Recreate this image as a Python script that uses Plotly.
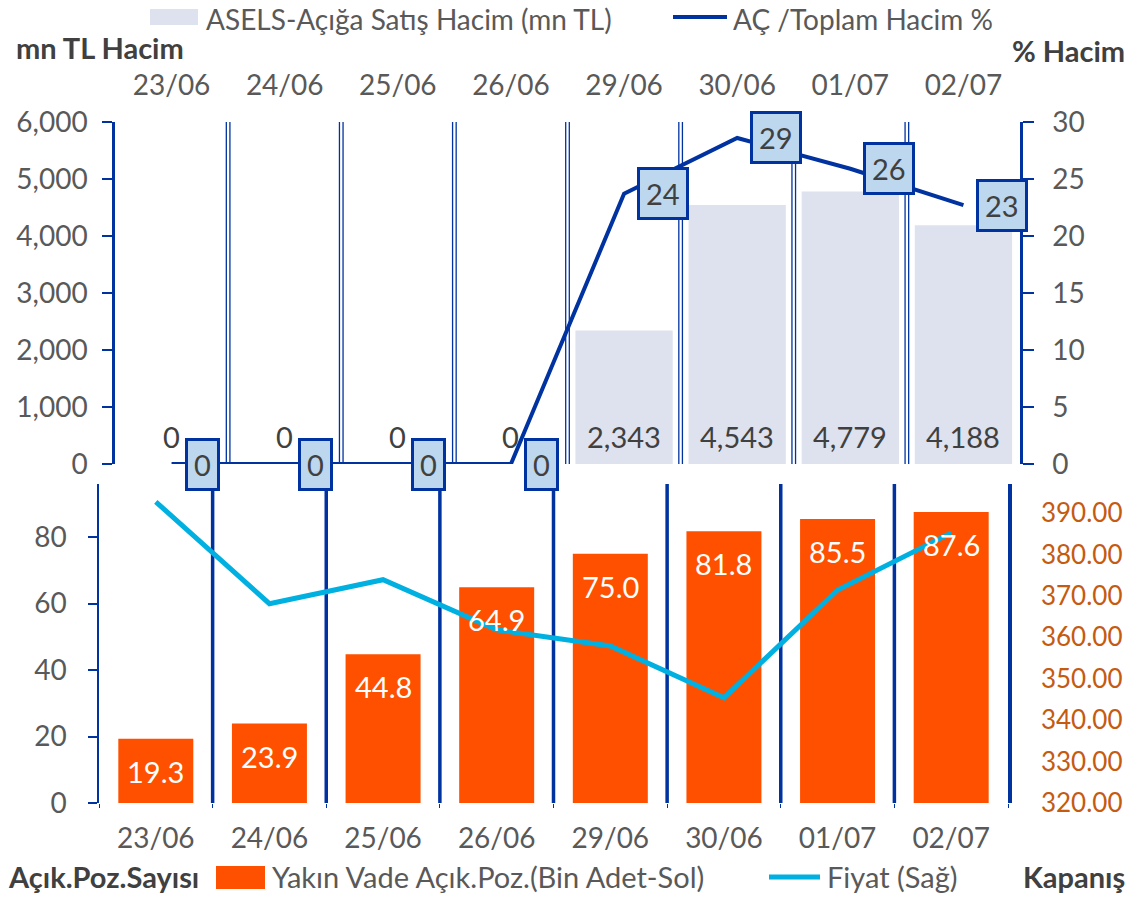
import plotly.graph_objects as go

# ---- data ----
dates = ["23/06", "24/06", "25/06", "26/06", "29/06", "30/06", "01/07", "02/07"]
short_volume = [0, 0, 0, 0, 2343, 4543, 4779, 4188]          # mn TL
short_ratio = [0, 0, 0, 0, 23.7, 28.6, 25.9, 22.7]            # %
open_positions = [19.3, 23.9, 44.8, 64.9, 75.0, 81.8, 85.5, 87.6]  # bin adet
close_price = [392.7, 368.1, 373.9, 361.8, 357.9, 345.4, 371.4, 385.2]

legend_top = ["ASELS-Açığa Satış Hacim (mn TL)", "AÇ /Toplam Hacim %"]
legend_bottom = ["Yakın Vade Açık.Poz.(Bin Adet-Sol)", "Fiyat (Sağ)"]

FW, FH = 1132, 897
FONT = "Lato"
GRAY = "#595959"
DARK = "#404040"
NAVY = "#0033A0"
BAR_LIGHT = "#DDE2EE"
BOX = "#BDD7EE"
ORANGE = "#FF5000"
CYAN = "#00B0E0"
BROWN = "#C55A11"


def px_x(p):
    return p / FW


def px_y(p):
    return 1 - p / FH


fig = go.Figure()

# top chart
fig.add_trace(go.Bar(x=dates, y=short_volume, name=legend_top[0],
                     marker=dict(color=BAR_LIGHT, line=dict(width=0)), width=0.86,
                     xaxis="x", yaxis="y", showlegend=False, hoverinfo="skip"))
fig.add_trace(go.Scatter(x=dates, y=short_ratio, name=legend_top[1], mode="lines",
                         line=dict(color=NAVY, width=4), xaxis="x", yaxis="y2",
                         showlegend=False, hoverinfo="skip"))
# bottom chart
fig.add_trace(go.Bar(x=dates, y=open_positions, name=legend_bottom[0],
                     marker=dict(color=ORANGE, line=dict(width=0)), width=0.66,
                     xaxis="x2", yaxis="y3", showlegend=False, hoverinfo="skip"))
fig.add_trace(go.Scatter(x=dates, y=close_price, name=legend_bottom[1], mode="lines",
                         line=dict(color=CYAN, width=5), xaxis="x2", yaxis="y4",
                         showlegend=False, hoverinfo="skip"))

annotations = []
shapes = []

# top bar labels (inside base)
for d, v in zip(dates, short_volume):
    annotations.append(dict(x=d, y=0, xref="x", yref="y", text=f"{v:,.0f}",
                            showarrow=False, yanchor="bottom", yshift=8,
                            font=dict(family=FONT, size=29, color=DARK)))
# line labels (boxed, right of point)
for d, v in zip(dates, short_ratio):
    annotations.append(dict(x=d, y=v, xref="x", yref="y2", text=f"{v:.0f}",
                            showarrow=False, xanchor="left", yanchor="middle", xshift=13,
                            bgcolor=BOX, bordercolor=NAVY, borderwidth=3, borderpad=6,
                            font=dict(family=FONT, size=29, color=DARK)))
# bottom bar labels (inside end)
for d, v in zip(dates, open_positions):
    annotations.append(dict(x=d, y=v, xref="x2", yref="y3", text=f"{v:.1f}",
                            showarrow=False, yanchor="top", yshift=-13,
                            font=dict(family=FONT, size=29, color="white")))

# axis titles
title_font = dict(family=FONT, size=29, color=DARK)
annotations += [
    dict(x=px_x(14), y=px_y(47), xref="paper", yref="paper", text="<b>mn TL Hacim</b>",
         showarrow=False, xanchor="left", yanchor="middle", font=title_font),
    dict(x=px_x(1127), y=px_y(50), xref="paper", yref="paper", text="<b>% Hacim</b>",
         showarrow=False, xanchor="right", yanchor="middle", font=title_font),
    dict(x=px_x(6), y=px_y(876), xref="paper", yref="paper", text="<b>Açık.Poz.Sayısı</b>",
         showarrow=False, xanchor="left", yanchor="middle", font=title_font),
    dict(x=px_x(1127), y=px_y(876), xref="paper", yref="paper", text="<b>Kapanış</b>",
         showarrow=False, xanchor="right", yanchor="middle", font=title_font),
]

# legends (drawn)
leg_top_font = dict(family=FONT, size=28, color=GRAY)
leg_bot_font = dict(family=FONT, size=29, color=GRAY)
shapes += [
    dict(type="rect", xref="paper", yref="paper", x0=px_x(150), x1=px_x(198),
         y0=px_y(25), y1=px_y(9), fillcolor=BAR_LIGHT, line=dict(width=0)),
    dict(type="line", xref="paper", yref="paper", x0=px_x(673), x1=px_x(727),
         y0=px_y(17), y1=px_y(17), line=dict(color=NAVY, width=4)),
    dict(type="rect", xref="paper", yref="paper", x0=px_x(216), x1=px_x(265),
         y0=px_y(889), y1=px_y(866), fillcolor=ORANGE, line=dict(width=0)),
    dict(type="line", xref="paper", yref="paper", x0=px_x(769), x1=px_x(820),
         y0=px_y(877), y1=px_y(877), line=dict(color=CYAN, width=5)),
]
annotations += [
    dict(x=px_x(204), y=px_y(19), xref="paper", yref="paper", text=legend_top[0],
         showarrow=False, xanchor="left", yanchor="middle", font=leg_top_font),
    dict(x=px_x(731), y=px_y(19), xref="paper", yref="paper", text=legend_top[1],
         showarrow=False, xanchor="left", yanchor="middle", font=leg_top_font),
    dict(x=px_x(270), y=px_y(876), xref="paper", yref="paper", text=legend_bottom[0],
         showarrow=False, xanchor="left", yanchor="middle", font=leg_bot_font),
    dict(x=px_x(825), y=px_y(876), xref="paper", yref="paper", text=legend_bottom[1],
         showarrow=False, xanchor="left", yanchor="middle", font=leg_bot_font),
]

# separators between categories
for i in range(len(dates) - 1):
    for off in (-1.8, 1.8):
        shapes.append(dict(type="line", xref="x", yref="y domain", xsizemode="pixel",
                           xanchor=i + 0.5, x0=off, x1=off, y0=0, y1=1,
                           line=dict(color=NAVY, width=1.3), layer="below"))
    shapes.append(dict(type="line", xref="x2", yref="y3 domain", x0=i + 0.5, x1=i + 0.5,
                       y0=0, y1=1, line=dict(color=NAVY, width=3.5), layer="below"))

axis_font = dict(family=FONT, size=28, color=GRAY)
top_dom = [px_y(464), px_y(122)]
bot_dom = [px_y(803), px_y(484)]

fig.update_layout(
    width=FW, height=FH,
    margin=dict(l=0, r=0, t=0, b=0),
    paper_bgcolor="white", plot_bgcolor="white",
    font=dict(family=FONT, color=GRAY),
    showlegend=False,
    barmode="overlay",
    xaxis=dict(domain=[px_x(115), px_x(1020)], anchor="y", side="top", type="category",
               range=[-0.5, 7.5], showgrid=False, showline=False, ticks="",
               tickfont=axis_font, ticklabelstandoff=20, automargin=False, fixedrange=True),
    yaxis=dict(domain=top_dom, anchor="x", range=[0, 6000], tickvals=[0, 1000, 2000, 3000, 4000, 5000, 6000],
               tickformat=",.0f", showgrid=False, zeroline=False, showline=True,
               linecolor=NAVY, linewidth=2.5, ticks="outside", ticklen=10, tickcolor=NAVY,
               tickwidth=2, tickfont=axis_font, ticklabelstandoff=9, automargin=False),
    yaxis2=dict(domain=top_dom, anchor="x", overlaying="y", side="right", range=[0, 30], dtick=5,
                showgrid=False, zeroline=False, showline=True, linecolor=NAVY, linewidth=2.5,
                ticks="outside", ticklen=11, tickcolor=NAVY, tickwidth=2, tickfont=axis_font,
                ticklabelstandoff=13, automargin=False),
    xaxis2=dict(domain=[px_x(99), px_x(1008)], anchor="y3", type="category", range=[-0.5, 7.5],
                showgrid=False, showline=False, ticks="outside", tickson="boundaries", ticklen=4,
                tickcolor=NAVY, tickfont=axis_font, ticklabelstandoff=16, automargin=False),
    yaxis3=dict(domain=bot_dom, anchor="x2", range=[0, 96], tickvals=[0, 20, 40, 60, 80],
                showgrid=False, zeroline=False, showline=True, linecolor=NAVY, linewidth=1.5,
                ticks="outside", ticklen=9, tickcolor=NAVY, tickwidth=1.5, tickfont=axis_font,
                ticklabelstandoff=16, automargin=False),
    yaxis4=dict(domain=bot_dom, anchor="x2", overlaying="y3", side="right", range=[320, 397],
                tickvals=[320, 330, 340, 350, 360, 370, 380, 390], tickformat=".2f",
                showgrid=False, zeroline=False, showline=True, linecolor=NAVY, linewidth=3.5,
                ticks="", tickfont=dict(family=FONT, size=26, color=BROWN),
                ticklabelstandoff=24, automargin=False),
    annotations=annotations,
    shapes=shapes,
)

# page body margin removed so the 1132x897 figure fills the window exactly
fig.write_html("out.html", config={"displayModeBar": False},
               post_script="document.body.style.margin='0';")
